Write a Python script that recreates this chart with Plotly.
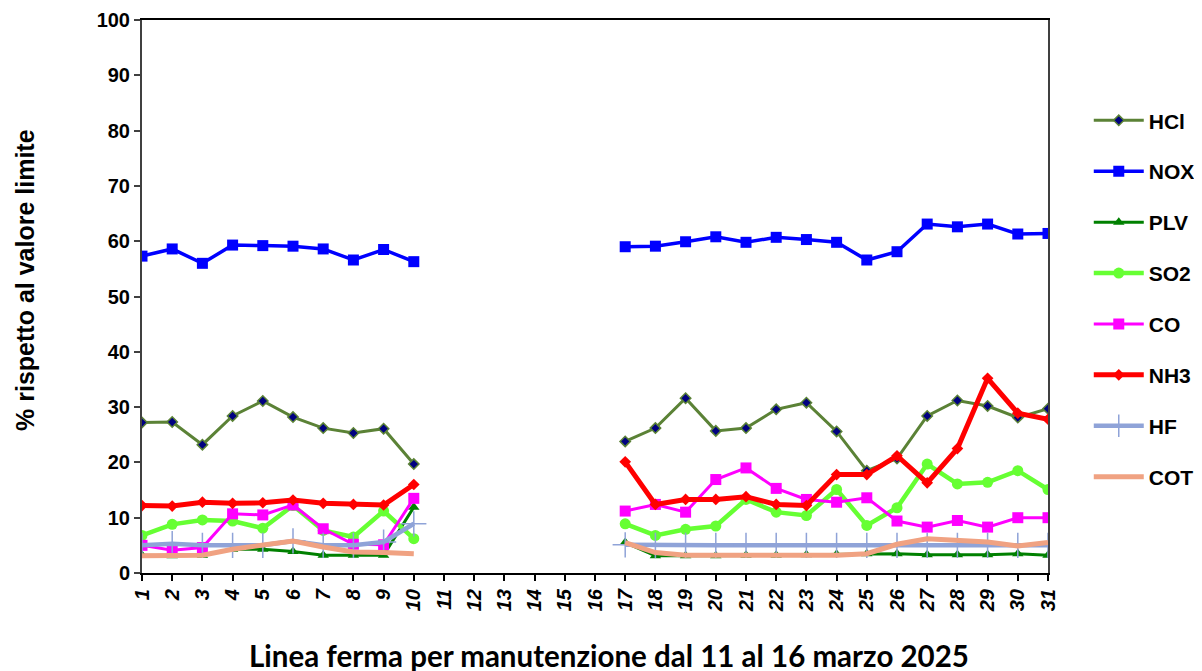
import plotly.graph_objects as go

days = list(range(1, 32))
N = None

HCl = [27.2, 27.3, 23.2, 28.4, 31.1, 28.2, 26.2, 25.3, 26.1, 19.7,
       N, N, N, N, N, N,
       23.8, 26.2, 31.6, 25.7, 26.2, 29.6, 30.8, 25.6, 18.5, 20.7, 28.4, 31.2, 30.2, 28.1, 29.7]
NOX = [57.3, 58.6, 56.0, 59.3, 59.2, 59.1, 58.6, 56.6, 58.5, 56.3,
       N, N, N, N, N, N,
       59.0, 59.1, 59.9, 60.8, 59.8, 60.7, 60.3, 59.8, 56.6, 58.1, 63.1, 62.6, 63.1, 61.3, 61.4]
PLV = [3.2, 3.1, 3.2, 4.3, 4.3, 3.9, 3.2, 3.2, 3.2, 11.9,
       N, N, N, N, N, N,
       5.5, 3.1, 3.1, 3.1, 3.2, 3.2, 3.3, 3.4, 3.5, 3.5, 3.3, 3.3, 3.3, 3.5, 3.2]
SO2 = [6.8, 8.8, 9.6, 9.4, 8.1, 12.2, 7.7, 6.5, 11.2, 6.2,
       N, N, N, N, N, N,
       8.9, 6.8, 7.9, 8.5, 13.3, 11.0, 10.4, 15.1, 8.6, 11.8, 19.7, 16.1, 16.4, 18.5, 15.1]
CO = [5.0, 4.1, 4.6, 10.7, 10.5, 12.3, 8.0, 5.2, 5.1, 13.5,
      N, N, N, N, N, N,
      11.2, 12.4, 11.0, 16.9, 19.0, 15.3, 13.3, 12.8, 13.6, 9.4, 8.3, 9.5, 8.3, 10.0, 10.0]
NH3 = [12.2, 12.1, 12.8, 12.6, 12.7, 13.2, 12.6, 12.4, 12.3, 16.0,
       N, N, N, N, N, N,
       20.1, 12.4, 13.3, 13.3, 13.8, 12.4, 12.2, 17.8, 17.8, 21.2, 16.3, 22.5, 35.2, 28.9, 27.8]
HF = [5.0, 5.3, 5.0, 5.0, 5.0, 5.8, 5.0, 5.0, 5.6, 8.9,
      N, N, N, N, N, N,
      5.1, 5.0, 5.0, 5.0, 5.0, 5.0, 5.0, 5.0, 5.0, 5.0, 5.0, 5.0, 5.0, 5.0, 5.0]
COT = [3.1, 3.1, 3.2, 4.3, 5.0, 5.8, 4.7, 3.8, 3.7, 3.5,
       N, N, N, N, N, N,
       5.5, 3.7, 3.2, 3.2, 3.2, 3.2, 3.1, 3.2, 3.5, 5.2, 6.2, 5.8, 5.6, 4.9, 5.5]

tick_labels = [str(d) for d in days]
y_ticks = list(range(0, 101, 10))

fig = go.Figure()

def add(name, y, color, width, marker=None):
    kw = dict(x=days, y=y, name=name, legendgroup=name,
              line=dict(color=color, width=width), connectgaps=False)
    if marker is None:
        kw["mode"] = "lines"
    else:
        kw["mode"] = "lines+markers"
        kw["marker"] = marker
    fig.add_trace(go.Scatter(**kw))

add("HCl", HCl, "#5B8236", 3,
    dict(symbol="diamond", size=8, color="#000080", line=dict(color="#5B8236", width=1.5)))
add("NOX", NOX, "#0000FF", 3.5,
    dict(symbol="square", size=11, color="#0000FF"))
add("PLV", PLV, "#008000", 3,
    dict(symbol="triangle-up", size=10, color="#008000"))
add("SO2", SO2, "#66FF33", 4.5,
    dict(symbol="circle", size=11, color="#66FF33"))
add("CO", CO, "#FF00FF", 3,
    dict(symbol="square", size=11, color="#FF00FF"))
add("NH3", NH3, "#FF0000", 5,
    dict(symbol="diamond", size=9, color="#FF0000"))
add("HF", HF, "#8FA3D8", 4.5,
    dict(symbol="cross-thin", size=18, color="#8FA3D8", line=dict(color="#8FA3D8", width=1.5)))
add("COT", COT, "#F0A282", 5)

BOLD = "Liberation Sans, Arial, sans-serif"

fig.update_layout(
    width=1202, height=671,
    margin=dict(l=134, r=162, t=12, b=106, autoexpand=False),
    paper_bgcolor="white", plot_bgcolor="white",
    font=dict(family=BOLD, color="black"),
    showlegend=True,
    legend=dict(
        x=1.045, y=0.855, xanchor="left", yanchor="top",
        font=dict(size=21, family=BOLD, weight="bold"),
        tracegroupgap=20.6, itemwidth=50, bgcolor="rgba(0,0,0,0)",
    ),
    xaxis=dict(
        range=[1, 31], tickmode="array", tickvals=days, ticktext=tick_labels,
        tickangle=-90, ticks="outside", ticklen=6, tickcolor="black", tickwidth=1.5,
        tickfont=dict(size=20, weight="bold", style="italic"),
        showgrid=False, zeroline=False, automargin=False,
        showline=True, linecolor="black", linewidth=2, mirror=True,
    ),
    yaxis=dict(
        range=[0, 100], tickvals=y_ticks, ticks="outside", ticklen=6,
        tickcolor="#404040", tickwidth=1.5,
        tickfont=dict(size=20, weight="bold"), ticklabeloverflow="allow",
        showgrid=False, zeroline=False, automargin=False,
        showline=True, linecolor="#404040", linewidth=2, mirror=True,
    ),
    annotations=[
        dict(text="Linea ferma per manutenzione dal 11 al 16 marzo 2025",
             xref="paper", yref="paper", x=0.515, y=0, yshift=-82,
             xanchor="center", yanchor="middle", showarrow=False,
             font=dict(size=29.5, family="Lato, Open Sans, sans-serif", weight="bold")),
        dict(text="% rispetto al valore limite",
             xref="paper", yref="paper", x=0, xshift=-117, y=0.53,
             xanchor="center", yanchor="middle", showarrow=False, textangle=-90,
             font=dict(size=25, family=BOLD, weight="bold")),
    ],
)

fig.write_html("out.html")
